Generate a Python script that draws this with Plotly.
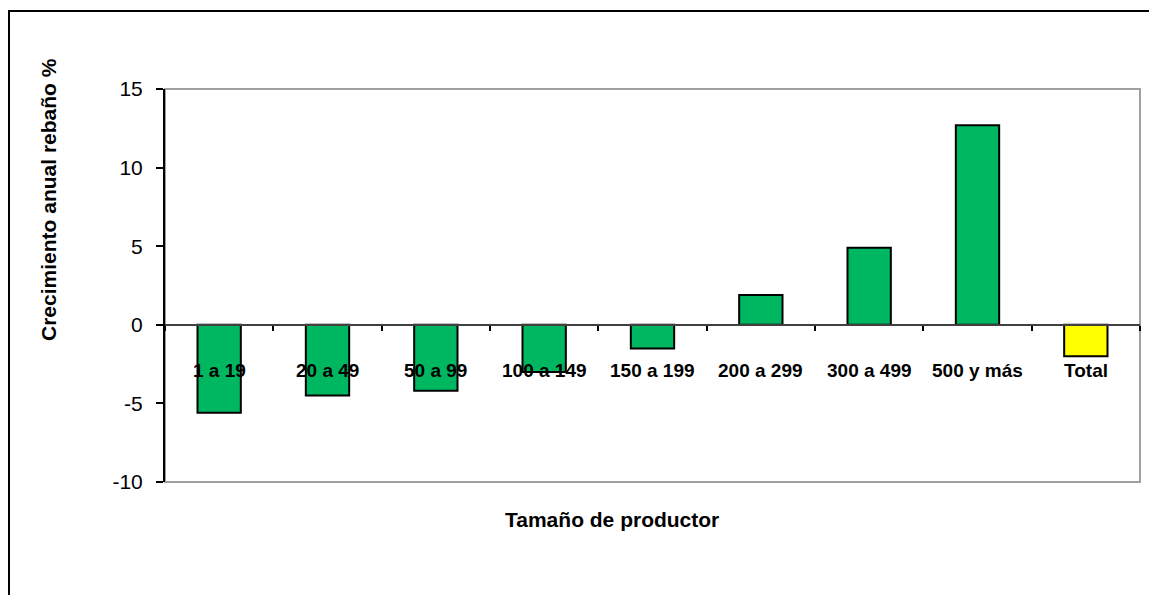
import plotly.graph_objects as go

categories = ["1 a 19", "20 a 49", "50 a 99", "100 a 149", "150 a 199",
              "200 a 299", "300 a 499", "500 y más", "Total"]
growth = [-5.6, -4.5, -4.2, -3.0, -1.5, 1.9, 4.9, 12.7, -2.0]
y_ticks = [-10, -5, 0, 5, 10, 15]

GREEN = "#00B761"
YELLOW = "#FFFF00"
bar_colors = [YELLOW if c == "Total" else GREEN for c in categories]

W, H = 1149, 595
L, R, T, B = 165, 1140, 89, 482  # plot area pixel edges

def px_x(px):
    return (px - L) / (R - L)

def px_y(py):
    return (B - py) / (B - T)

FONT = "Liberation Sans, Arial, sans-serif"

fig = go.Figure()
fig.add_trace(go.Bar(
    x=categories, y=growth,
    marker=dict(color=bar_colors, line=dict(color="black", width=2)),
    showlegend=False,
))

ymin, ymax = -10, 15
zero_pos = (0 - ymin) / (ymax - ymin)

fig.update_layout(
    width=W, height=H,
    margin=dict(l=L, r=W - R, t=T, b=H - B, pad=0),
    paper_bgcolor="white", plot_bgcolor="white",
    bargap=0.6,
    font=dict(family=FONT, color="black"),
    xaxis=dict(
        type="category", range=[-0.5, len(categories) - 0.5],
        anchor="free", position=zero_pos,
        showline=True, linecolor="#404040", linewidth=1.5,
        ticks="outside", ticklen=5, tickwidth=1.5, tickcolor="black",
        tickson="boundaries", showticklabels=False, showgrid=False,
        zeroline=False,
    ),
    yaxis=dict(
        range=[ymin, ymax], tickvals=y_ticks,
        ticktext=[str(v) for v in y_ticks],
        showline=True, linecolor="black", linewidth=2,
        ticks="outside", ticklen=7, tickwidth=2, tickcolor="black",
        ticklabelstandoff=9,
        tickfont=dict(size=21, family=FONT), showgrid=False, zeroline=False,
    ),
    shapes=[
        dict(type="rect", xref="paper", yref="paper", x0=0, x1=1, y0=0, y1=1,
             line=dict(color="#A0A0A0", width=2), layer="below"),
        dict(type="rect", xref="paper", yref="paper",
             x0=px_x(9), x1=px_x(1175), y0=px_y(620), y1=px_y(11),
             line=dict(color="black", width=2)),
    ],
)

annotations = []
for c in categories:
    annotations.append(dict(
        x=c, y=0, xref="x", yref="y", text=f"<b>{c}</b>", showarrow=False,
        yshift=-46, xanchor="center", yanchor="middle",
        font=dict(size=19, family=FONT, color="black"),
    ))
annotations.append(dict(
    x=px_x(612), y=px_y(519), xref="paper", yref="paper",
    text="<b>Tamaño de productor</b>", showarrow=False,
    xanchor="center", yanchor="middle",
    font=dict(size=21, family=FONT, color="black"),
))
annotations.append(dict(
    x=px_x(48), y=px_y(200), xref="paper", yref="paper",
    text="<b>Crecimiento anual rebaño %</b>", showarrow=False, textangle=-90,
    xanchor="center", yanchor="middle",
    font=dict(size=21, family=FONT, color="black"),
))
fig.update_layout(annotations=annotations)

fig.write_html("out.html", config={"displayModeBar": False},
               post_script="document.body.style.margin='0';")
